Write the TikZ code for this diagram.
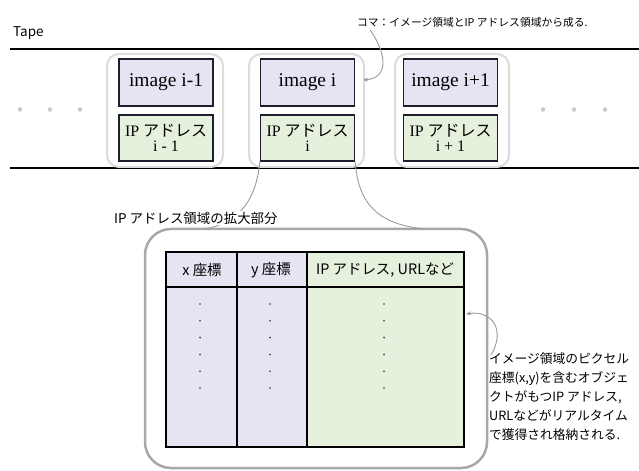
\documentclass[tikz,border=0pt]{standalone}
\usepackage{fontspec}
\setmainfont{Liberation Serif}
\newfontfamily\jp{Noto Sans CJK JP}
\usetikzlibrary{arrows.meta}
\definecolor{lav}{HTML}{E6E4F2}
\definecolor{grn}{HTML}{E5F0DD}
\definecolor{framegray}{HTML}{DCDCDC}
\definecolor{biggray}{HTML}{A8A8A8}
\definecolor{linegray}{HTML}{9A9A9A}
\definecolor{dotgray}{HTML}{C8C8C8}
\definecolor{boxline}{HTML}{1E1E2E}
\begin{document}
\begin{tikzpicture}[x=1bp,y=-1bp,
  imgbox/.style={draw=boxline, line width=1.3bp, fill=lav, minimum width=94bp, minimum height=47bp, inner sep=0pt, font=\fontsize{19.5}{21}\selectfont},
  ipbox/.style={draw=boxline, line width=1.3bp, fill=grn, minimum width=94bp, minimum height=46bp, inner sep=0pt, align=center, font=\fontsize{16}{16}\selectfont},
  kframe/.style={draw=framegray, line width=2bp, rounded corners=12bp, minimum height=113bp, inner sep=0pt},
  tapeline/.style={line width=1.6bp, black},
  gdot/.style={circle, fill=dotgray, inner sep=0pt, minimum size=4.5bp},
  bdot/.style={circle, fill=black!80, inner sep=0pt, minimum size=1.8bp},
  callout/.style={draw=linegray, line width=0.9bp},
  callarrow/.style={draw=linegray, line width=0.9bp, -{Stealth[length=5bp,width=4bp]}},
  jplabel/.style={font=\jp\fontsize{#1}{#1}\selectfont, inner sep=1bp},
  hdr/.style={font=\jp\fontsize{14.5}{14.5}\selectfont, inner sep=0pt},
  tabline/.style={draw=black, line width=1.3bp}
]
\useasboundingbox (0,0) rectangle (639,471);

% tape lines
\coordinate (tl1) at (10,49);
\coordinate (tl2) at (639,49);
\coordinate (bl1) at (10,168);
\coordinate (bl2) at (639,168);
\draw[tapeline] (tl1) -- (tl2);
\draw[tapeline] (bl1) -- (bl2);
\node[jplabel=13.5, anchor=west] (tape) at (12,33) {Tape};

% dots
\foreach \x/\n in {20/l1,50/l2,80/l3,543/r1,574/r2,605/r3}
  \node[gdot] (d\n) at (\x,109.5) {};

% frames
\node[kframe, minimum width=116bp] (f1) at (165,110.5) {};
\node[kframe, minimum width=115bp] (f2) at (306.5,110.5) {};
\node[kframe, minimum width=114bp] (f3) at (452,110.5) {};

% boxes
\node[imgbox] (img1) at (166,82.5) {image i-1};
\node[imgbox] (img2) at (307.5,82.5) {image i};
\node[imgbox] (img3) at (450.5,82.5) {image i+1};
\node[ipbox] (ip1) at (166,138) {IP {\jp アドレス}\\[-1bp]i - 1};
\node[ipbox] (ip2) at (307.5,138) {IP {\jp アドレス}\\[-1bp]i};
\node[ipbox] (ip3) at (450.5,138) {IP {\jp アドレス}\\[-1bp]i + 1};

% top annotation
\node[jplabel=10.8, anchor=west] (ann) at (356,22) {コマ：イメージ領域とIP アドレス領域から成る.};
\coordinate (annfoot) at (370,30);
\coordinate (anntip) at (363,80);
\draw[callarrow] (annfoot) .. controls (386,52) and (390,78) .. (anntip);

% big frame
\coordinate (bfnw) at (145,229);
\coordinate (bfse) at (487,468);
\draw[draw=biggray, line width=2.5bp, rounded corners=26bp] (bfnw) rectangle (bfse);
\coordinate (lcend) at (205,229);
\coordinate (rcend) at (425,229);
\draw[callout] (ip2.south west) .. controls (256,200) and (240,222) .. (lcend);
\draw[callout] (ip2.south east) .. controls (358,198) and (372,224) .. (rcend);

\node[jplabel=13.5, anchor=west, fill=white] (zoomlbl) at (113,218) {IP アドレス領域の拡大部分};

% table
\fill[lav] (166,252) rectangle (307,447);
\fill[grn] (307,252) rectangle (464,447);
\node[hdr] (h1) at (202,270) {x 座標};
\node[hdr] (h2) at (271,270) {y 座標};
\node[hdr] (h3) at (385,270) {IP アドレス, URLなど};
\draw[tabline] (166,252) rectangle (464,447);
\draw[tabline] (166,287) -- (464,287);
\draw[tabline] (237,252) -- (237,447);
\draw[tabline] (307,252) -- (307,447);
\foreach \k in {0,...,5} {
  \node[bdot] (c1d\k) at (200,304+16.8*\k) {};
  \node[bdot] (c2d\k) at (270,304+16.8*\k) {};
  \node[bdot] (c3d\k) at (384,304+16.8*\k) {};
}

% bottom right annotation
\node[jplabel=12.8, anchor=north west, align=left, font=\jp\fontsize{12.8}{19}\selectfont] (note) at (488,352)
  {イメージ領域のピクセル\\座標(x,y)を含むオブジェ\\クトがもつIP アドレス,\\URLなどがリアルタイム\\で獲得され格納される.};
\coordinate (notefoot) at (491,355);
\coordinate (notetip) at (466,314);
\draw[callarrow] (notefoot) .. controls (506,330) and (492,310) .. (notetip);
\end{tikzpicture}
\end{document}
